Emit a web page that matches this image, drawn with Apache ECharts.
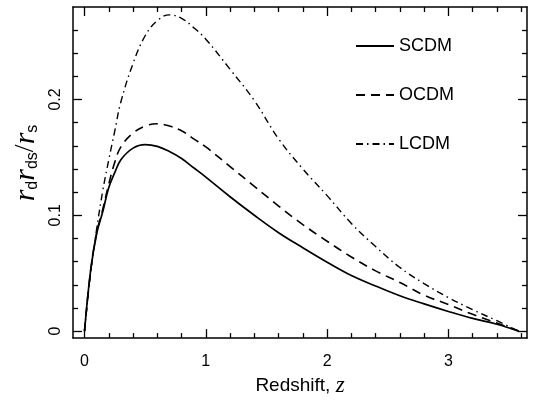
<!DOCTYPE html>
<html><head><meta charset="utf-8">
<script src="https://cdn.jsdelivr.net/npm/echarts@6/dist/echarts.min.js"></script>
<style>html,body{margin:0;padding:0;background:#fff}#c{width:534px;height:402px}</style>
</head><body><div id="c"></div>
<script>
const redshift = [0, 0.05, 0.1, 0.15, 0.2, 0.25, 0.3, 0.4, 0.5, 0.6, 0.7, 0.8, 0.9, 1.0, 1.2, 1.4, 1.6, 1.8, 2.0, 2.2, 2.4, 2.6, 2.8, 3.0, 3.2, 3.4, 3.58];
const scdm = [0, 0.052, 0.084, 0.103, 0.124, 0.137, 0.148, 0.158, 0.161, 0.1595, 0.155, 0.149, 0.141, 0.133, 0.116, 0.100, 0.085, 0.072, 0.0595, 0.048, 0.039, 0.0305, 0.0235, 0.017, 0.011, 0.006, 0];
const ocdm = [0, 0.052, 0.085, 0.105, 0.127, 0.146, 0.159, 0.171, 0.177, 0.179, 0.177, 0.173, 0.166, 0.159, 0.142, 0.125, 0.108, 0.092, 0.0776, 0.064, 0.052, 0.042, 0.031, 0.023, 0.0145, 0.007, 0];
const lcdm = [0, 0.05, 0.088, 0.121, 0.148, 0.173, 0.198, 0.231, 0.255, 0.268, 0.273, 0.270, 0.262, 0.252, 0.226, 0.199, 0.166, 0.140, 0.117, 0.093, 0.073, 0.055, 0.041, 0.029, 0.0185, 0.009, 0];
const seriesNames = ['SCDM', 'OCDM', 'LCDM'];
const xMajorTicks = [0, 1, 2, 3];
const xMinorTicks = [0.2, 0.4, 0.6, 0.8, 1.2, 1.4, 1.6, 1.8, 2.2, 2.4, 2.6, 2.8, 3.2, 3.4, 3.6];
const yMajorTicks = [0, 0.1, 0.2];
const yMinorTicks = [0.02, 0.04, 0.06, 0.08, 0.12, 0.14, 0.16, 0.18, 0.22, 0.24, 0.26];

const XMIN = -0.095, XMAX = 3.648, YMIN = -0.006, YMAX = 0.2798;
const black = '#000';
const FONT = 'Liberation Sans';

function xAx(position, ticks, len, showLine, showLabel, extra) {
  return Object.assign({
    type: 'value', position: position, min: XMIN, max: XMAX,
    axisLine: { show: showLine, onZero: false, lineStyle: { color: black, width: 1.5 } },
    axisTick: { show: true, inside: true, length: len, customValues: ticks, lineStyle: { color: black, width: 1.3 } },
    axisLabel: showLabel ? { show: true, customValues: ticks, color: black, fontFamily: FONT, fontSize: 16, margin: 15, formatter: v => String(v) } : { show: false },
    splitLine: { show: false }
  }, extra || {});
}
function yAx(position, ticks, len, showLine, showLabel) {
  return {
    type: 'value', position: position, min: YMIN, max: YMAX,
    axisLine: { show: showLine, onZero: false, lineStyle: { color: black, width: 1.5 } },
    axisTick: { show: true, inside: true, length: len, customValues: ticks, lineStyle: { color: black, width: 1.3 } },
    axisLabel: showLabel ? { show: true, customValues: ticks, rotate: 90, color: black, fontFamily: FONT, fontSize: 16, margin: 9, formatter: v => String(v) } : { show: false },
    splitLine: { show: false }
  };
}

const chart = echarts.init(document.getElementById('c'), null, { renderer: 'canvas' });
const mk = arr => redshift.map((z, i) => [z, arr[i]]);
const styles = [
  { type: 'solid', width: 1.7 },
  { type: [9, 6], width: 1.6 },
  { type: [7, 4, 1.5, 4], width: 1.4 }
];
const datasets = [scdm, ocdm, lcdm];

chart.setOption({
  animation: false,
  backgroundColor: '#fff',
  grid: { left: 73, right: 7, top: 7, bottom: 51, containLabel: false },
  xAxis: [
    xAx('bottom', xMajorTicks, 9, true, true, {
      name: '{a|Redshift, }{z|z}', nameLocation: 'middle', nameGap: 34,
      nameTextStyle: { rich: {
        a: { fontFamily: FONT, fontSize: 19, color: black },
        z: { fontFamily: 'Liberation Serif', fontStyle: 'italic', fontSize: 23, color: black }
      } }
    }),
    xAx('bottom', xMinorTicks, 5, false, false),
    xAx('top', xMajorTicks, 9, true, false),
    xAx('top', xMinorTicks, 5, false, false)
  ],
  yAxis: [
    yAx('left', yMajorTicks, 9, true, true),
    yAx('left', yMinorTicks, 5, false, false),
    yAx('right', yMajorTicks, 9, true, false),
    yAx('right', yMinorTicks, 5, false, false)
  ],
  legend: {
    show: true, orient: 'vertical', left: 350, top: 32, itemWidth: 38, itemHeight: 14, itemGap: 31,
    itemStyle: { color: 'rgba(0,0,0,0)', borderWidth: 0, borderColor: 'rgba(0,0,0,0)' },
    textStyle: { color: black, fontFamily: FONT, fontSize: 18, lineHeight: 18 },
    data: seriesNames
  },
  graphic: [{
    type: 'text', x: 26, y: 163, rotation: Math.PI / 2,
    style: {
      text: '{r|r}{s|d}{r|r}{s|ds}{sl|/}{r|r}{s|s}',
      align: 'center', verticalAlign: 'middle',
      rich: {
        r: { fontFamily: 'Liberation Serif', fontStyle: 'italic', fontSize: 30, fill: black },
        s: { fontFamily: FONT, fontSize: 16, fill: black, padding: [14, 0, 0, 0] },
        sl: { fontFamily: 'Liberation Serif', fontSize: 28, fill: black }
      }
    }
  }],
  series: datasets.map((d, i) => ({
    name: seriesNames[i], type: 'line', data: mk(d), xAxisIndex: 0, yAxisIndex: 0,
    showSymbol: false, symbol: 'none', smooth: 0.4,
    lineStyle: Object.assign({ color: black }, styles[i]),
    itemStyle: { color: black }
  }))
});
</script></body></html>
